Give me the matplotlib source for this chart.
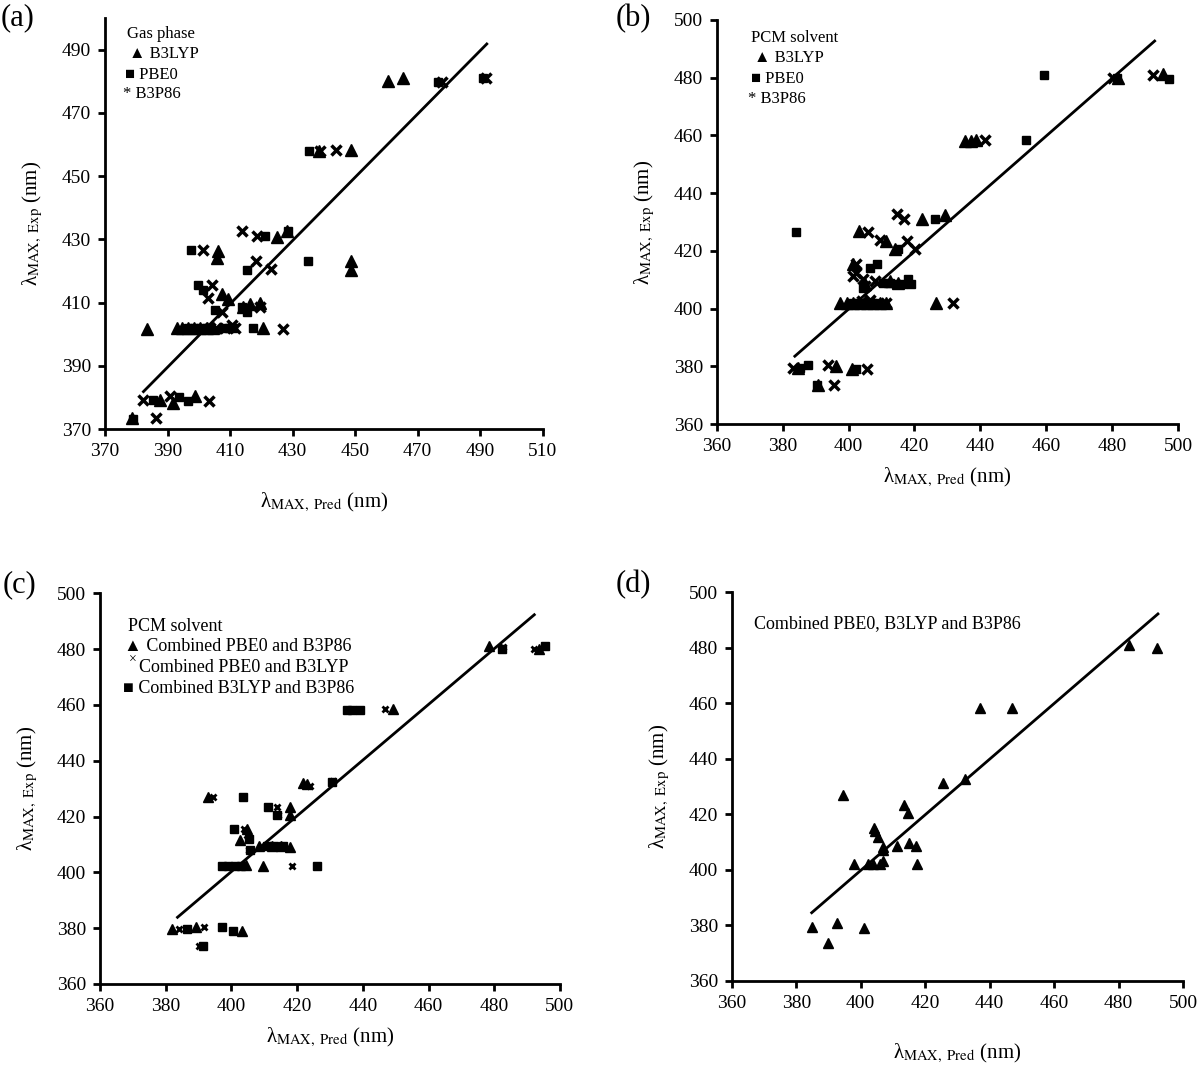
import matplotlib
matplotlib.use('Agg')
import matplotlib.pyplot as plt
import numpy as np

plt.rcParams['font.family'] = ['Liberation Serif', 'DejaVu Sans']
plt.rcParams['mathtext.fontset'] = 'stix'

# (a) gas phase
a_b3lyp_x = [460.4, 465.2, 438.5, 448.7, 448.7, 448.7, 424.9, 428.1, 406.0, 405.7, 383.3, 392.9, 394.5,
             396.5, 398.5, 400.5, 402.5, 404.5, 420.6, 409.4, 407.3, 419.6, 416.5, 414.0, 398.8, 391.9,
             387.6, 378.5]
a_b3lyp_y = [480, 481, 458, 458.2, 423.3, 420.4, 430.9, 432.6, 426.5, 424.2, 401.8, 402, 402,
             402, 402, 402, 402, 402, 402, 411.3, 412.8, 409.9, 409.6, 408.5, 380.5, 378.4,
             379.4, 373.5]
a_pbe0_x = [476.6, 491, 435.4, 421.2, 397.4, 415.5, 435.0, 399.9, 401.4, 396.5, 398.5, 400.5, 402.5,
            407.8, 409.5, 411, 417.4, 405.2, 413.7, 415.3, 379, 385.5, 393.8, 396.7, 428.5]
a_pbe0_y = [479.8, 481, 458, 431.2, 426.7, 420.4, 423.1, 415.5, 414.1, 402, 402, 402, 402,
            402, 402, 402, 402, 407.6, 408.6, 407, 373.1, 379.4, 380.3, 378.9, 432.6]
a_b3p86_x = [477.7, 492, 443.9, 438.8, 413.9, 418.5, 418.2, 423.1, 401.2, 404.1, 402.8, 407.3, 427.0,
             410.5, 382.0, 390.8, 403.4, 386.2, 419.6, 403.5, 405.5, 408.5, 411.5]
a_b3p86_y = [479.8, 481, 458.4, 458, 432.6, 431.2, 423.3, 420.6, 426.7, 415.5, 411.6, 407, 401.8,
             402.9, 379.4, 380.5, 378.9, 373.5, 408.6, 402, 402, 402, 402]
a_fit_x = [382.3, 492.1]
a_fit_y = [381.9, 491.8]

# (b) PCM solvent
b_b3lyp_x = [481.8, 495.4, 435.3, 437.3, 438.8, 422.2, 429.2, 403.3, 411.5, 414.0, 401.4, 397.4, 399.5,
             401.5, 403.5, 405.5, 407.5, 409.5, 411.5, 426.5, 390.8, 396.2, 400.9, 384.8, 405.0, 412.5, 415.0]
b_b3lyp_y = [479.8, 481.2, 458, 458, 458.4, 431.1, 432.3, 426.8, 423.4, 420.5, 415.3, 402, 402,
             402, 402, 402, 402, 402, 402, 402, 373.4, 380.2, 379.1, 379.4, 408.5, 409.5, 409]
b_pbe0_x = [459.2, 497.2, 481.6, 453.8, 384.1, 426.2, 415.1, 408.5, 406.5, 418.1, 419.1, 410.5, 412.5,
            414.5, 416.5, 404.5, 401, 403, 405, 407, 409, 387.8, 385.3, 402.4, 390.3]
b_pbe0_y = [480.8, 479.7, 479.8, 458.3, 426.7, 431.2, 420.5, 415.3, 414.1, 410.1, 408.6, 409, 409,
            408.5, 408.5, 407.2, 402, 402, 402, 402, 402, 380.3, 379.4, 379.1, 373.4]
b_b3p86_x = [480.3, 492.4, 441.4, 414.8, 416.8, 405.8, 409.5, 417.6, 420.1, 402.2, 402.4, 401.4, 404.5,
             405, 408, 411.5, 431.8, 383.2, 393.9, 405.5, 395.6, 404, 406.5]
b_b3p86_y = [480, 480.9, 458.4, 432.6, 431.2, 426.7, 423.9, 423.4, 420.5, 415.3, 412.4, 411.2, 410.1,
             407.7, 409.5, 402, 402, 379.4, 380.3, 379.1, 373.4, 402.5, 403]
b_fit_x = [383.7, 492.9]
b_fit_y = [383.5, 492.7]

# (c) PCM solvent, combined functionals
c_pb_x = [478.3, 493.5, 449.3, 421.9, 423.0, 393.0, 417.7, 417.7, 404.7, 402.6, 417.9, 412.5, 409.5,
          404.5, 381.8, 389.1, 403.1, 408.5, 415]
c_pb_y = [481.1, 480, 458.4, 431.9, 431.7, 426.9, 423.3, 420.6, 415.4, 411.6, 409, 409.3, 402.3,
          402.5, 379.6, 380.5, 379.1, 409.5, 409.5]
c_pl_x = [482.8, 492, 446.8, 424, 430.9, 394.5, 414, 414.3, 403.7, 404.7, 418.4, 403.5, 384.2,
          391.8, 390, 400.6, 411, 405.5]
c_pl_y = [480.9, 480, 458.4, 431, 432.8, 426.9, 423.3, 420.6, 415.4, 413.4, 402.3, 402.3, 379.6,
          380.5, 373.6, 379.1, 409.5, 408]
c_lb_x = [482.3, 495.5, 435.1, 436.6, 439.2, 430.6, 403.5, 411.1, 413.8, 400.8, 405.5, 405.7, 397.1,
          399, 401, 426, 386.4, 397.1, 400.6, 391.3, 410.8, 413, 415.8, 403]
c_lb_y = [480, 481.1, 458, 458, 458.2, 432.5, 426.9, 423.3, 420.6, 415.4, 411.9, 408, 402.3,
          402.3, 402.3, 402.3, 379.6, 380.5, 379.1, 373.6, 409.5, 409.5, 409.5, 402.3]
c_fit_x = [383.6, 492.2]
c_fit_y = [383.9, 492.3]

# (d) all three combined
d_x = [483.2, 492, 437, 446.8, 425.4, 432.3, 394.6, 413.5, 414.8, 404.1, 404.4, 405.5, 406.8, 407,
       411.4, 415.1, 417.3, 417.6, 406.8, 397.9, 402.4, 403.9, 406, 384.8, 392.7, 390, 401]
d_y = [481, 479.8, 458.2, 458.4, 431.4, 432.6, 427, 423.3, 420.6, 415.2, 414.1, 411.7, 408.3, 407.1,
       408.7, 409.8, 408.6, 402.1, 403.3, 402.1, 402.1, 402.1, 402.1, 379.5, 380.7, 373.5, 379.1]
d_fit_x = [384.8, 492.2]
d_fit_y = [384.5, 492.2]

ylab = '\u03bb$_{\\mathrm{MAX,\\ Exp}}$ (nm)'
xlab = '\u03bb$_{\\mathrm{MAX,\\ Pred}}$ (nm)'


def style_axes(ax, lo, hi, xticks, yticks):
    ax.set_xlim(lo[0], hi[0])
    ax.set_ylim(lo[1], hi[1])
    ax.set_xticks(xticks)
    ax.set_yticks(yticks)
    for s in ['top', 'right']:
        ax.spines[s].set_visible(False)
    for s in ['left', 'bottom']:
        ax.spines[s].set_linewidth(2.0)
    ax.tick_params(direction='out', length=5, width=2.0, labelsize=14, pad=5)


fig = plt.figure(figsize=(12, 10.67), dpi=100)

# (a)
ax = fig.add_axes([0.0875, 0.5977, 0.3648, 0.3854])
ax.plot(a_b3lyp_x, a_b3lyp_y, '^', color='black', ms=8, ls='none')
ax.plot(a_pbe0_x, a_pbe0_y, 's', color='black', ms=6, ls='none')
ax.plot(a_b3p86_x, a_b3p86_y, 'x', color='black', ms=7, mew=2.5, ls='none')
ax.plot(a_fit_x, a_fit_y, color='black', lw=2)
style_axes(ax, (370, 370), (510, 500), range(370, 511, 20), range(370, 491, 20))
ax.set_xlabel(xlab, fontsize=15, labelpad=22)
ax.set_ylabel(ylab, fontsize=15, labelpad=12)
ax.text(0.05, 0.96, 'Gas phase', transform=ax.transAxes, fontsize=12, va='center')
ax.text(0.055, 0.912, '\u25B2 B3LYP', transform=ax.transAxes, fontsize=12, va='center')
ax.text(0.045, 0.862, '\u25A0 PBE0', transform=ax.transAxes, fontsize=12, va='center')
ax.text(0.04, 0.815, '* B3P86', transform=ax.transAxes, fontsize=12, va='center')
fig.text(0.015, 0.983, '(a)', fontsize=22, va='center', ha='center')

# (b)
ax = fig.add_axes([0.5973, 0.6026, 0.3844, 0.3787])
ax.plot(b_b3lyp_x, b_b3lyp_y, '^', color='black', ms=8, ls='none')
ax.plot(b_pbe0_x, b_pbe0_y, 's', color='black', ms=6, ls='none')
ax.plot(b_b3p86_x, b_b3p86_y, 'x', color='black', ms=7, mew=2.5, ls='none')
ax.plot(b_fit_x, b_fit_y, color='black', lw=2)
style_axes(ax, (360, 360), (500, 500), range(360, 501, 20), range(360, 501, 20))
ax.set_xlabel(xlab, fontsize=15, labelpad=8)
ax.set_ylabel(ylab, fontsize=15, labelpad=12)
ax.text(0.075, 0.955, 'PCM solvent', transform=ax.transAxes, fontsize=12, va='center')
ax.text(0.08, 0.905, '\u25B2 B3LYP', transform=ax.transAxes, fontsize=12, va='center')
ax.text(0.075, 0.855, '\u25A0 PBE0', transform=ax.transAxes, fontsize=12, va='center')
ax.text(0.068, 0.805, '* B3P86', transform=ax.transAxes, fontsize=12, va='center')
fig.text(0.528, 0.983, '(b)', fontsize=22, va='center', ha='center')

# (c)
ax = fig.add_axes([0.0833, 0.0778, 0.3833, 0.3662])
ax.plot(c_pb_x, c_pb_y, '^', color='black', ms=7, ls='none')
ax.plot(c_pl_x, c_pl_y, 'x', color='black', ms=5, mew=2.0, ls='none')
ax.plot(c_lb_x, c_lb_y, 's', color='black', ms=6, ls='none')
ax.plot(c_fit_x, c_fit_y, color='black', lw=2)
style_axes(ax, (360, 360), (500, 500), range(360, 501, 20), range(360, 501, 20))
ax.set_xlabel(xlab, fontsize=15, labelpad=8)
ax.set_ylabel(ylab, fontsize=15, labelpad=12)
ax.text(0.06, 0.915, 'PCM solvent', transform=ax.transAxes, fontsize=13, va='center')
ax.text(0.052, 0.865, '\u25B2 Combined PBE0 and B3P86', transform=ax.transAxes, fontsize=13, va='center')
ax.text(0.062, 0.828, '\u00D7', transform=ax.transAxes, fontsize=10, va='center')
ax.text(0.085, 0.81, 'Combined PBE0 and B3LYP', transform=ax.transAxes, fontsize=13, va='center')
ax.text(0.05, 0.757, '\u25A0 Combined B3LYP and B3P86', transform=ax.transAxes, fontsize=13, va='center')
fig.text(0.016, 0.452, '(c)', fontsize=22, va='center', ha='center')

# (d)
ax = fig.add_axes([0.6098, 0.0809, 0.3761, 0.3640])
ax.plot(d_x, d_y, '^', color='black', ms=7, ls='none')
ax.plot(d_fit_x, d_fit_y, color='black', lw=2)
style_axes(ax, (360, 360), (500, 500), range(360, 501, 20), range(360, 501, 20))
ax.set_xlabel(xlab, fontsize=15, labelpad=22)
ax.set_ylabel(ylab, fontsize=15, labelpad=12)
ax.text(0.05, 0.92, 'Combined PBE0, B3LYP and B3P86', transform=ax.transAxes, fontsize=13, va='center')
fig.text(0.528, 0.452, '(d)', fontsize=22, va='center', ha='center')

fig.savefig('out.png', dpi=100)
